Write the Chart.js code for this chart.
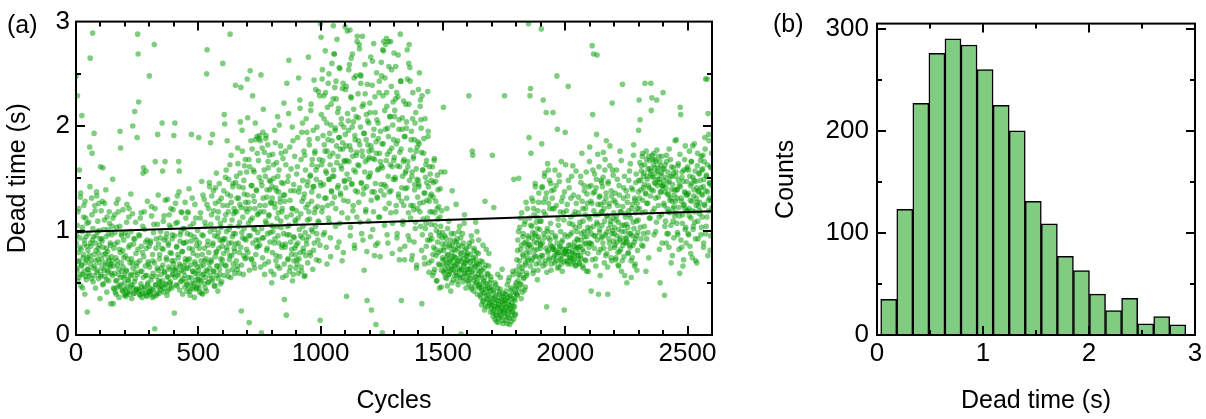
<!DOCTYPE html>
<html>
<head>
<meta charset="utf-8">
<title>Dead time</title>
<script src="https://cdn.jsdelivr.net/npm/chart.js@4.4.0/dist/chart.umd.min.js"></script>
<style>
  html, body { margin: 0; padding: 0; background: #fff; }
  #wrap { position: relative; width: 1206px; height: 419px; overflow: hidden;
          font-family: 'Liberation Sans', Arial, sans-serif; }
  #wrap canvas { position: absolute; top: 0; }
  #panelA { left: 0; }
  #panelB { left: 760px; }
  .tag { position: absolute; font-size: 25px; line-height: 25px; color: #000; }
</style>
</head>
<body>
<div id="wrap">
  <canvas id="panelA" width="730" height="419"></canvas>
  <canvas id="panelB" width="446" height="419"></canvas>
  <div class="tag" style="left:7px; top:12px;">(a)</div>
  <div class="tag" style="left:773px; top:11px;">(b)</div>
</div>
<script>
// --- dead time per cycle, in hundredths of a second ---
// even-numbered cycles (0, 2, 4, ...)
const evenCycles0to499 = [
  248, 96, 62, 229, 118, 71, 55, 158, 84, 132, 47, 66, 210, 103, 58, 77, 124, 91, 39, 69, 112, 53, 85, 22, 74,
  63, 108, 57, 180, 265, 88, 72, 131, 174, 289, 51, 94, 193, 66, 119, 45, 81, 137, 60, 99, 73, 54, 126, 86, 35,
  161, 58, 92, 64, 128, 160, 49, 77, 110, 56, 69, 139, 83, 41, 62, 101, 74, 52, 118, 67, 88, 30, 59, 96, 71,
  149, 30, 66, 44, 115, 87, 52, 39, 103, 71, 46, 130, 58, 36, 82, 195, 179, 48, 97, 61, 42, 120, 55, 74, 38,
  44, 98, 37, 62, 125, 41, 73, 52, 113, 39, 86, 47, 135, 58, 35, 69, 200, 45, 92, 40, 214, 54, 108, 43, 66,
  189, 288, 269, 223, 42, 95, 38, 61, 117, 46, 36, 79, 155, 160, 44, 101, 40, 57, 157, 83, 37, 128, 50, 68, 41,
  248, 45, 88, 39, 123, 56, 36, 71, 43, 106, 278, 6, 166, 48, 92, 38, 64, 192, 134, 52, 40, 77, 47, 99, 58,
  47, 203, 157, 82, 41, 114, 60, 166, 49, 93, 72, 38, 130, 55, 86, 44, 105, 63, 51, 121, 78, 45, 96, 58, 68,
  191, 21, 203, 62, 107, 48, 85, 133, 57, 74, 166, 157, 43, 96, 66, 118, 52, 80, 39, 102, 61, 88, 46, 127, 70,
  51, 89, 42, 118, 64, 47, 140, 73, 38, 96, 55, 192, 44, 82, 61, 107, 49, 36, 125, 68, 53, 91, 45, 76, 58
];
const evenCycles500to999 = [
  48, 189, 83, 41, 112, 66, 52, 147, 77, 39, 95, 58, 130, 71, 45, 104, 62, 250, 273, 86, 50, 121, 69, 142, 57,
  184, 72, 115, 54, 192, 88, 138, 61, 101, 47, 126, 79, 155, 66, 94, 42, 118, 83, 145, 58, 107, 73, 131, 51, 90,
  260, 92, 138, 211, 202, 67, 115, 158, 84, 186, 124, 56, 149, 101, 76, 288, 133, 172, 88, 110, 63, 145, 97, 121, 80,
  118, 239, 87, 152, 131, 66, 164, 104, 142, 79, 125, 204, 237, 23, 98, 176, 113, 58, 148, 135, 92, 168, 121, 74, 156,
  245, 208, 127, 95, 12, 161, 253, 110, 143, 72, 178, 229, 133, 102, 156, 64, 121, 187, 91, 138, 190, 115, 85, 167, 188,
  191, 124, 186, 249, 2, 143, 93, 194, 216, 118, 175, 68, 152, 188, 107, 132, 83, 182, 160, 114, 172, 139, 98, 147, 126,
  50, 131, 173, 104, 150, 88, 196, 122, 141, 76, 165, 112, 209, 95, 137, 158, 64, 127, 181, 103, 146, 118, 86, 169, 134,
  222, 34, 128, 87, 163, 19, 241, 104, 72, 152, 263, 96, 180, 65, 138, 115, 82, 199, 121, 58, 144, 93, 171, 110, 77,
  86, 154, 68, 189, 112, 246, 73, 141, 217, 95, 168, 61, 128, 203, 104, 80, 176, 135, 57, 158, 122, 91, 194, 110, 147,
  266, 118, 182, 79, 153, 215, 101, 137, 168, 63, 196, 142, 88, 174, 121, 235, 149, 97, 161, 188, 109, 133, 71, 229, 14
];
const evenCycles1000to1499 = [
  298, 285, 163, 245, 122, 191, 144, 207, 98, 176, 232, 131, 155, 68, 218, 187, 112, 250, 149, 171, 93, 201, 138, 260, 126,
  174, 296, 152, 269, 237, 198, 121, 226, 165, 84, 213, 143, 189, 256, 107, 178, 134, 202, 159, 71, 184, 241, 129, 167, 148,
  295, 235, 181, 37, 154, 212, 128, 196, 166, 259, 292, 103, 177, 227, 145, 269, 119, 204, 158, 86, 191, 138, 248, 172, 113,
  286, 163, 208, 127, 278, 182, 249, 241, 146, 97, 219, 171, 135, 193, 62, 156, 231, 118, 187, 142, 33, 205, 168, 109, 176,
  152, 213, 94, 181, 24, 137, 262, 169, 118, 197, 76, 228, 145, 10, 174, 206, 131, 88, 188, 159, 243, 113, 166, 138, 261,
  248, 2, 273, 183, 281, 144, 215, 121, 278, 167, 232, 96, 198, 152, 281, 126, 176, 209, 281, 138, 254, 161, 107, 223, 187,
  270, 209, 151, 226, 118, 183, 93, 162, 228, 135, 197, 72, 175, 288, 243, 33, 141, 208, 106, 166, 124, 190, 85, 155, 221,
  198, 131, 273, 166, 95, 260, 278, 148, 243, 112, 187, 72, 156, 207, 124, 171, 89, 139, 203, 108, 176, 64, 149, 121, 185,
  235, 142, 251, 118, 225, 206, 175, 30, 96, 158, 127, 188, 74, 136, 102, 163, 85, 146, 112, 233, 195, 69, 128, 91, 154,
  96, 148, 71, 118, 57, 132, 84, 167, 63, 105, 147, 76, 52, 121, 89, 139, 68, 98, 45, 113, 81, 156, 62, 93, 74
];
const evenCycles1500to1999 = [
  72, 218, 61, 84, 156, 55, 93, 68, 121, 47, 77, 64, 109, 58, 86, 71, 42, 97, 63, 138, 75, 53, 82, 66, 90,
  66, 81, 125, 57, 92, 70, 48, 86, 62, 104, 74, 55, 1, 79, 63, 97, 51, 88, 68, 115, 59, 76, 45, 83, 71,
  63, 78, 52, 229, 88, 57, 70, 46, 95, 61, 176, 172, 74, 42, 83, 55, 66, 108, 50, 79, 39, 68, 58, 91, 47,
  55, 38, 71, 46, 29, 62, 41, 86, 33, 52, 24, 128, 44, 67, 35, 49, 27, 58, 39, 78, 31, 45, 22, 53, 36,
  31, 172, 22, 41, 122, 27, 15, 36, 48, 19, 33, 25, 58, 12, 29, 39, 21, 44, 17, 34, 26, 63, 14, 30, 37,
  24, 229, 33, 18, 42, 27, 11, 36, 21, 52, 29, 16, 38, 25, 45, 13, 31, 22, 61, 28, 149, 35, 19, 47, 40,
  45, 72, 38, 91, 58, 150, 66, 103, 49, 82, 35, 117, 61, 77, 97, 54, 88, 43, 109, 69, 127, 57, 84, 74, 95,
  298, 189, 86, 229, 236, 174, 71, 104, 93, 128, 62, 115, 81, 97, 142, 75, 108, 88, 53, 119, 94, 136, 69, 101, 83,
  87, 293, 183, 142, 76, 225, 118, 93, 155, 68, 131, 213, 27, 99, 164, 81, 126, 74, 148, 91, 107, 62, 138, 85, 121,
  213, 82, 139, 76, 158, 93, 71, 124, 248, 197, 79, 105, 65, 147, 84, 118, 73, 166, 89, 61, 132, 78, 110, 24, 96
];
const evenCycles2000to2499 = [
  194, 163, 78, 82, 125, 70, 238, 86, 141, 74, 96, 113, 68, 152, 81, 106, 77, 134, 72, 89, 118, 66, 157, 84, 99,
  79, 73, 132, 84, 68, 108, 76, 146, 91, 174, 82, 121, 64, 99, 138, 87, 115, 71, 156, 94, 126, 103, 61, 142, 88,
  180, 102, 128, 42, 87, 277, 211, 136, 269, 95, 154, 115, 73, 141, 192, 268, 106, 125, 39, 161, 98, 133, 82, 148, 118,
  105, 142, 88, 175, 121, 69, 158, 96, 131, 186, 78, 114, 39, 147, 92, 126, 162, 83, 109, 138, 71, 222, 100, 153, 117,
  97, 84, 136, 72, 110, 158, 89, 124, 67, 101, 143, 80, 176, 93, 118, 61, 105, 240, 86, 131, 75, 152, 99, 113, 88,
  92, 50, 127, 103, 79, 148, 115, 86, 164, 97, 55, 121, 74, 139, 108, 182, 89, 131, 68, 117, 154, 95, 126, 81, 110,
  196, 225, 131, 206, 148, 92, 162, 117, 174, 85, 141, 155, 104, 241, 136, 61, 168, 126, 152, 98, 143, 171, 112, 159, 133,
  241, 215, 227, 152, 168, 138, 174, 121, 160, 145, 99, 166, 225, 149, 157, 132, 171, 113, 146, 50, 162, 137, 155, 88, 143,
  232, 148, 124, 38, 163, 109, 141, 172, 97, 135, 156, 118, 84, 147, 129, 168, 105, 139, 152, 76, 121, 160, 93, 134, 114,
  128, 152, 187, 107, 139, 96, 164, 122, 143, 59, 218, 211, 131, 84, 156, 115, 147, 72, 125, 168, 101, 136, 88, 159, 119
];
const evenCycles2500to2599 = [
  134, 97, 158, 121, 176, 85, 143, 112, 166, 128, 74, 151, 104, 139, 183, 118, 92, 147, 131, 69, 162, 109, 137, 123, 155,
  127, 148, 96, 171, 135, 113, 159, 142, 88, 166, 124, 178, 245, 104, 152, 245, 137, 212, 119, 186, 145, 81, 161, 129, 174
];
// odd-numbered cycles (1, 3, 5, ...)
const oddCycles0to499 = [
  88, 64, 105, 52, 79, 121, 70, 93, 58, 136, 82, 67, 99, 45, 74, 113, 61, 87, 128, 56, 94, 72, 107, 63, 81,
  97, 59, 76, 142, 68, 85, 54, 115, 91, 102, 64, 77, 57, 124, 88, 71, 95, 133, 62, 109, 83, 78, 100, 69, 92,
  56, 119, 73, 90, 48, 84, 101, 62, 126, 67, 78, 94, 53, 113, 80, 60, 97, 71, 107, 65, 86, 68, 75, 104, 57,
  112, 45, 83, 59, 98, 41, 74, 126, 52, 67, 89, 118, 63, 47, 104, 79, 55, 69, 95, 43, 81, 65, 91, 50, 57,
  76, 39, 61, 108, 46, 95, 53, 84, 121, 42, 69, 57, 99, 73, 48, 116, 64, 87, 40, 51, 92, 60, 78, 44, 69,
  58, 82, 44, 96, 39, 71, 112, 49, 85, 61, 40, 104, 55, 75, 118, 46, 66, 89, 38, 57, 91, 48, 70, 42, 85,
  65, 41, 90, 53, 114, 44, 77, 59, 98, 37, 69, 121, 48, 83, 56, 40, 106, 62, 87, 45, 73, 51, 93, 43, 64,
  83, 52, 67, 109, 45, 91, 61, 129, 48, 74, 97, 56, 42, 88, 65, 115, 50, 79, 103, 47, 71, 92, 58, 120, 63,
  71, 95, 55, 126, 64, 84, 47, 108, 77, 59, 137, 68, 90, 51, 99, 62, 117, 80, 54, 88, 66, 102, 57, 73, 112,
  64, 48, 97, 72, 117, 55, 83, 42, 104, 67, 90, 50, 131, 61, 78, 46, 94, 70, 59, 112, 44, 86, 65, 100, 53
];
const oddCycles500to999 = [
  62, 45, 88, 53, 117, 71, 40, 96, 58, 134, 67, 49, 83, 108, 55, 73, 42, 125, 61, 90, 51, 79, 146, 64, 99,
  106, 70, 133, 52, 86, 61, 119, 47, 95, 75, 141, 57, 80, 66, 112, 54, 98, 128, 63, 91, 49, 103, 68, 85, 72,
  124, 78, 57, 110, 92, 151, 66, 99, 81, 135, 61, 118, 88, 72, 163, 104, 55, 127, 76, 94, 142, 68, 116, 83, 59,
  97, 146, 71, 118, 63, 179, 88, 131, 59, 108, 155, 84, 122, 67, 196, 93, 141, 76, 102, 162, 73, 127, 91, 82, 118,
  134, 79, 107, 168, 62, 121, 95, 186, 73, 143, 112, 88, 158, 68, 128, 101, 203, 77, 139, 84, 174, 98, 116, 91, 151,
  86, 118, 65, 147, 102, 179, 74, 131, 93, 158, 58, 124, 109, 191, 81, 139, 97, 166, 70, 115, 148, 89, 127, 61, 105,
  142, 79, 99, 163, 58, 126, 92, 184, 71, 138, 104, 66, 152, 117, 88, 201, 75, 131, 109, 174, 84, 121, 55, 145, 97,
  68, 134, 84, 176, 57, 113, 96, 147, 73, 212, 105, 61, 129, 89, 159, 77, 121, 52, 186, 94, 71, 138, 83, 108, 64,
  119, 72, 161, 88, 59, 137, 101, 225, 79, 116, 65, 194, 93, 148, 83, 131, 56, 172, 98, 76, 207, 87, 143, 69, 125,
  94, 187, 111, 152, 76, 221, 128, 163, 99, 142, 81, 244, 117, 176, 104, 158, 72, 199, 123, 91, 233, 108, 168, 86, 146
];
const oddCycles1000to1499 = [
  143, 211, 118, 254, 167, 96, 229, 182, 131, 272, 157, 84, 203, 176, 124, 241, 149, 108, 193, 163, 75, 221, 137, 186, 152,
  226, 158, 269, 132, 196, 104, 243, 181, 283, 141, 171, 217, 89, 189, 255, 136, 162, 207, 117, 236, 178, 79, 199, 147, 166,
  192, 141, 238, 167, 291, 112, 205, 254, 149, 181, 95, 228, 265, 144, 199, 171, 124, 216, 246, 83, 187, 156, 209, 175, 281,
  137, 231, 186, 162, 274, 108, 199, 248, 145, 176, 286, 91, 221, 140, 193, 259, 166, 120, 211, 80, 240, 182, 151, 203, 170,
  222, 155, 266, 129, 177, 239, 101, 191, 279, 137, 168, 213, 86, 185, 251, 132, 158, 203, 113, 232, 174, 75, 195, 144, 162,
  183, 160, 229, 272, 134, 105, 246, 197, 142, 284, 219, 173, 88, 190, 257, 137, 209, 163, 117, 238, 179, 78, 201, 149, 167,
  170, 215, 149, 257, 124, 232, 97, 186, 268, 132, 206, 161, 82, 243, 178, 128, 197, 152, 109, 224, 168, 72, 190, 140, 157,
  204, 141, 245, 161, 117, 221, 91, 256, 177, 124, 195, 152, 76, 232, 169, 120, 187, 144, 102, 213, 159, 67, 180, 132, 148,
  144, 183, 126, 219, 104, 198, 81, 229, 158, 111, 174, 136, 68, 207, 151, 107, 167, 129, 91, 190, 142, 60, 161, 118, 133,
  106, 135, 92, 161, 77, 146, 60, 169, 117, 82, 128, 100, 52, 153, 111, 79, 123, 95, 67, 140, 104, 46, 119, 87, 98
];
const oddCycles1500to1999 = [
  67, 81, 59, 95, 72, 63, 88, 54, 76, 102, 69, 58, 84, 73, 61, 91, 66, 79, 50, 86, 70, 62, 97, 75, 57,
  74, 60, 89, 68, 52, 83, 71, 99, 64, 57, 78, 93, 62, 70, 85, 55, 73, 66, 107, 59, 81, 69, 53, 76, 63,
  58, 72, 49, 85, 63, 54, 77, 66, 44, 90, 60, 71, 52, 81, 65, 47, 74, 56, 69, 99, 51, 62, 78, 45, 67,
  48, 61, 36, 57, 43, 70, 32, 51, 64, 40, 55, 28, 47, 82, 38, 59, 34, 44, 66, 30, 50, 42, 56, 26, 46,
  28, 35, 18, 43, 24, 31, 50, 20, 38, 13, 27, 45, 33, 16, 29, 41, 23, 55, 19, 36, 25, 32, 11, 40, 22,
  30, 21, 39, 14, 34, 26, 48, 17, 32, 23, 55, 10, 37, 28, 43, 19, 35, 24, 58, 15, 41, 27, 33, 20, 50,
  62, 39, 81, 52, 99, 44, 71, 57, 112, 48, 86, 64, 41, 94, 75, 55, 106, 67, 46, 89, 79, 59, 121, 71, 87,
  93, 79, 112, 66, 105, 84, 131, 73, 98, 59, 121, 89, 76, 145, 95, 68, 113, 82, 102, 62, 127, 91, 74, 109, 86,
  109, 76, 141, 88, 66, 127, 97, 152, 71, 115, 83, 136, 60, 102, 79, 158, 93, 72, 121, 86, 145, 68, 98, 131, 82,
  84, 74, 121, 69, 95, 81, 143, 77, 88, 64, 111, 79, 153, 72, 85, 99, 68, 128, 76, 91, 82, 117, 70, 137, 80
];
const oddCycles2000to2499 = [
  82, 71, 119, 77, 94, 68, 148, 80, 107, 74, 86, 131, 73, 98, 79, 162, 70, 115, 85, 76, 103, 67, 126, 83, 92,
  91, 76, 117, 69, 104, 85, 152, 73, 97, 128, 66, 109, 80, 143, 94, 72, 121, 88, 61, 135, 99, 78, 113, 84, 166,
  111, 88, 143, 97, 126, 72, 158, 104, 119, 83, 137, 95, 66, 149, 108, 91, 173, 115, 79, 132, 101, 57, 125, 93, 146,
  118, 94, 151, 83, 127, 109, 168, 76, 136, 98, 114, 65, 145, 102, 123, 88, 181, 106, 74, 133, 97, 158, 112, 90, 129,
  103, 86, 127, 74, 114, 95, 149, 79, 108, 66, 134, 91, 118, 82, 167, 99, 71, 123, 89, 141, 105, 57, 116, 93, 138,
  106, 89, 133, 78, 119, 97, 157, 84, 112, 71, 141, 95, 125, 86, 172, 102, 66, 129, 92, 146, 109, 62, 121, 98, 137,
  148, 121, 165, 103, 139, 157, 86, 171, 129, 152, 97, 144, 163, 118, 135, 176, 92, 149, 126, 159, 74, 141, 167, 112, 154,
  157, 139, 172, 118, 151, 163, 96, 146, 168, 131, 155, 108, 177, 143, 160, 124, 149, 82, 166, 137, 153, 115, 171, 142, 159,
  143, 126, 159, 104, 137, 151, 88, 166, 121, 146, 97, 134, 178, 117, 152, 131, 69, 161, 128, 144, 109, 155, 123, 139, 186,
  117, 156, 139, 131, 98, 162, 148, 82, 114, 173, 142, 91, 128, 151, 107, 66, 124, 158, 137, 121, 181, 103, 134, 147, 119
];
const oddCycles2500to2599 = [
  161, 136, 96, 114, 152, 129, 78, 166, 145, 119, 181, 101, 133, 148, 108, 157, 71, 124, 141, 127, 174, 92, 138, 154, 116,
  119, 167, 141, 103, 158, 134, 172, 84, 149, 125, 189, 97, 138, 153, 113, 163, 76, 129, 192, 146, 131, 95, 160, 143, 122
];

// linear fit through the scatter, value at first and last cycle
const fitCycles = [0, 2600];
const fitDeadTime = [0.985, 1.185];

// histogram of dead times
const binStart = 0.035;
const binWidth = 0.1515;
const binCounts = [35, 123, 227, 276, 290, 284, 260, 225, 200, 131, 109, 77, 63, 40, 24, 36, 11, 18, 10];

// tick labels
const cycleTicks = [0, 500, 1000, 1500, 2000, 2500];
const secondTicks = [0, 1, 2, 3];
const countTicks = [0, 100, 200, 300];

const tickFont = { family: "'Liberation Sans', Arial, sans-serif", size: 26 };
const titleFont = { family: "'Liberation Sans', Arial, sans-serif", size: 25 };

// --- frame round the plot area, ticks pointing inward on every side ---
function innerSteps(min, max, step) {
  const out = [];
  for (let v = min + step; v < max - 1e-9; v += step) out.push(v);
  return out;
}
function isMajor(v, major) {
  return Math.abs(v / major - Math.round(v / major)) < 1e-6;
}
const frameTicks = {
  id: 'frameTicks',
  afterDraw(chart, args, opts) {
    const { ctx, chartArea: a } = chart;
    const xs = chart.scales.x, ys = chart.scales.y;
    ctx.save();
    ctx.strokeStyle = '#000';
    ctx.lineWidth = 2;
    ctx.beginPath();
    innerSteps(xs.min, xs.max, opts.xMinor).forEach(v => {
      const len = isMajor(v, opts.xMajor) ? 9 : 5;
      const px = Math.round(xs.getPixelForValue(v));
      ctx.moveTo(px, a.bottom); ctx.lineTo(px, a.bottom - len);
      ctx.moveTo(px, a.top); ctx.lineTo(px, a.top + len);
    });
    innerSteps(ys.min, ys.max, opts.yMinor).forEach(v => {
      const len = isMajor(v, opts.yMajor) ? 9 : 5;
      const py = Math.round(ys.getPixelForValue(v));
      ctx.moveTo(a.left, py); ctx.lineTo(a.left + len, py);
      ctx.moveTo(a.right, py); ctx.lineTo(a.right - len, py);
    });
    ctx.stroke();
    ctx.strokeRect(a.left, a.top, a.right - a.left, a.bottom - a.top);
    ctx.restore();
  }
};

function fixedTicks(values) {
  return scale => { scale.ticks = values.map(v => ({ value: v })); };
}

function axis(opts) {
  return {
    type: 'linear',
    min: opts.min,
    max: opts.max,
    offset: false,
    grid: { display: false, drawTicks: false },
    border: { display: false },
    afterBuildTicks: fixedTicks(opts.ticks),
    afterFit: opts.fit,
    ticks: { font: tickFont, color: '#000', padding: opts.pad, maxRotation: 0, autoSkip: false,
             callback: v => String(v) },
    title: { display: true, text: opts.title, font: titleFont, color: '#000', padding: opts.titlePad }
  };
}

// --- (a) dead time against cycle number ---
const evenCycles = [].concat(evenCycles0to499, evenCycles500to999, evenCycles1000to1499,
  evenCycles1500to1999, evenCycles2000to2499, evenCycles2500to2599);
const oddCycles = [].concat(oddCycles0to499, oddCycles500to999, oddCycles1000to1499,
  oddCycles1500to1999, oddCycles2000to2499, oddCycles2500to2599);
const scatterPoints = [];
evenCycles.forEach((cs, i) => scatterPoints.push({ x: 2 * i, y: cs / 100 }));
oddCycles.forEach((cs, i) => scatterPoints.push({ x: 2 * i + 1, y: cs / 100 }));
const fitPoints = fitCycles.map((c, i) => ({ x: c, y: fitDeadTime[i] }));

new Chart(document.getElementById('panelA'), {
  type: 'scatter',
  data: {
    datasets: [
      { data: fitPoints, showLine: true, borderColor: '#000', borderWidth: 2, pointRadius: 0, order: 0 },
      { data: scatterPoints, backgroundColor: 'rgba(0,155,0,0.5)', borderWidth: 0, pointRadius: 2.8, order: 1 }
    ]
  },
  options: {
    responsive: false,
    animation: false,
    events: [],
    layout: { padding: { top: 16, right: 18, left: 0, bottom: 0 } },
    plugins: {
      legend: { display: false },
      tooltip: { enabled: false },
      frameTicks: { xMajor: 500, xMinor: 100, yMajor: 1, yMinor: 0.5 }
    },
    scales: {
      x: axis({ min: 0, max: 2600, ticks: cycleTicks, pad: 3, title: 'Cycles',
                titlePad: { top: 3, bottom: 3 }, fit: s => { s.height = 84; } }),
      y: axis({ min: 0, max: 3, ticks: secondTicks, pad: 6, title: 'Dead time (s)',
                titlePad: { top: 3, bottom: 3 }, fit: s => { s.width = 76; } })
    }
  },
  plugins: [frameTicks]
});

// --- (b) histogram of dead times ---
const binPoints = binCounts.map((n, i) => ({ x: binStart + (i + 0.5) * binWidth, y: n }));

new Chart(document.getElementById('panelB'), {
  type: 'bar',
  data: {
    datasets: [{
      data: binPoints,
      backgroundColor: '#80cc80',
      borderColor: '#000',
      borderWidth: 1.5,
      barPercentage: 1,
      categoryPercentage: 1
    }]
  },
  options: {
    responsive: false,
    animation: false,
    events: [],
    layout: { padding: { top: 16, right: 11, left: 0, bottom: 0 } },
    plugins: {
      legend: { display: false },
      tooltip: { enabled: false },
      frameTicks: { xMajor: 1, xMinor: 0.5, yMajor: 100, yMinor: 50 }
    },
    scales: {
      x: axis({ min: 0, max: 3, ticks: secondTicks, pad: 3, title: 'Dead time (s)',
                titlePad: { top: 3, bottom: 3 }, fit: s => { s.height = 84; } }),
      y: axis({ min: 0, max: 305, ticks: countTicks, pad: 8, title: 'Counts',
                titlePad: { top: 11, bottom: 3 }, fit: s => { s.width = 117; } })
    }
  },
  plugins: [frameTicks]
});
</script>
</body>
</html>
